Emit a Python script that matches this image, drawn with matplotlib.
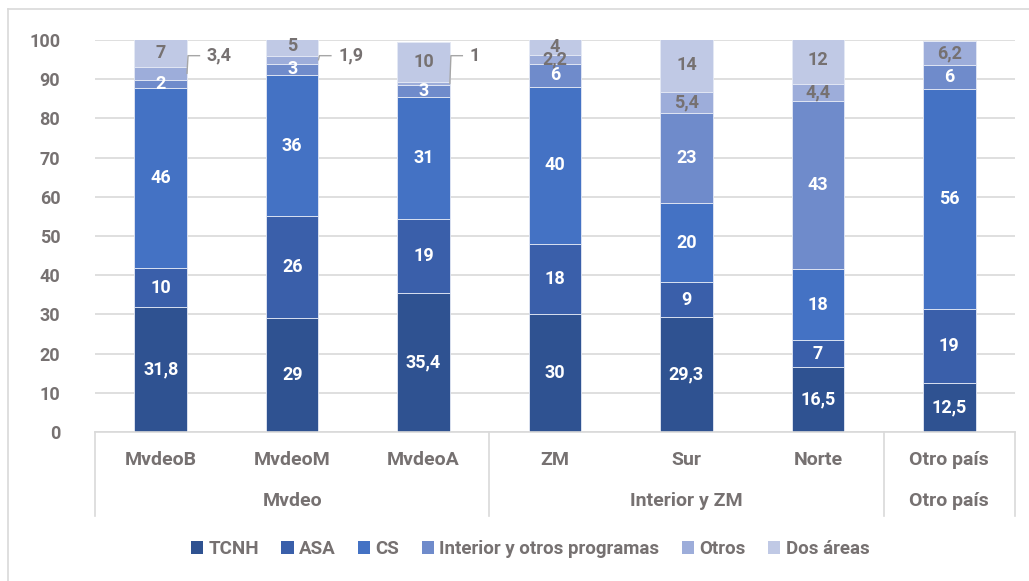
import matplotlib
matplotlib.use("Agg")
import matplotlib.pyplot as plt
from matplotlib.lines import Line2D
from matplotlib.patches import Patch
import numpy as np

categories = ["MvdeoB", "MvdeoM", "MvdeoA", "ZM", "Sur", "Norte", "Otro país"]
groups = [("Mvdeo", 0, 2), ("Interior y ZM", 3, 5), ("Otro país", 6, 6)]
series_names = ["TCNH", "ASA", "CS", "Interior y otros programas", "Otros", "Dos áreas"]
tcnh = [31.8, 29, 35.4, 30, 29.3, 16.5, 12.5]
asa = [10, 26, 19, 18, 9, 7, 19]
cs = [46, 36, 31, 40, 20, 18, 56]
interior = [2, 3, 3, 6, 23, 43, 6]
otros = [3.4, 1.9, 1, 2.2, 5.4, 4.4, 6.2]
dos_areas = [7, 5, 10, 4, 14, 12, 0]
label_text = {
    "TCNH": ["31,8", "29", "35,4", "30", "29,3", "16,5", "12,5"],
    "ASA": ["10", "26", "19", "18", "9", "7", "19"],
    "CS": ["46", "36", "31", "40", "20", "18", "56"],
    "Interior y otros programas": ["2", "3", "3", "6", "23", "43", "6"],
    "Otros": ["3,4", "1,9", "1", "2,2", "5,4", "4,4", "6,2"],
    "Dos áreas": ["7", "5", "10", "4", "14", "12", ""],
}
yticks = [0, 10, 20, 30, 40, 50, 60, 70, 80, 90, 100]

colors = ["#2F5291", "#3A5FAA", "#4472C4", "#6F8BCB", "#9DADDA", "#C0C9E5"]
label_colors = ["white", "white", "white", "white", "#767171", "#767171"]
grey = "#767171"
FONT = "Roboto"
plt.rcParams["font.family"] = [FONT, "DejaVu Sans"]

fig = plt.figure(figsize=(10.29, 5.81), dpi=100)
ax = fig.add_axes([95 / 1029, 1 - 432 / 581, 920 / 1029, 392 / 581])

x = np.arange(len(categories))
width = 0.40
data = [tcnh, asa, cs, interior, otros, dos_areas]
bottom = np.zeros(len(categories))
outside = {0, 1, 2}  # Otros labels with leader lines
for s, (name, vals) in enumerate(zip(series_names, data)):
    vals = np.array(vals, dtype=float)
    ax.bar(x, vals, width, bottom=bottom, color=colors[s], edgecolor="#E4E9F5",
           linewidth=0.6, zorder=2, label=name)
    for i, v in enumerate(vals):
        if v <= 0:
            continue
        mid = bottom[i] + v / 2
        txt = label_text[name][i]
        if name == "Otros" and i in outside:
            edge = x[i] + width / 2
            ly = 96.0
            ax.plot([edge, edge + 0.008, edge + 0.095], [mid, ly, ly], color="#A6A6A6",
                    lw=1.0, zorder=4, clip_on=False)
            ax.text(edge + 0.15, ly, txt, ha="left", va="center", color=grey,
                    fontsize=13, fontweight="bold", zorder=5)
        else:
            ax.text(x[i], mid, txt, ha="center", va="center", color=label_colors[s],
                    fontsize=13, fontweight="bold", zorder=5)
    bottom += vals

ax.set_xlim(-0.5, len(categories) - 0.5)
ax.set_ylim(0, 100)
ax.set_yticks(yticks)
ax.set_yticklabels([str(t) for t in yticks], color=grey, fontsize=13, fontweight="bold")
ax.tick_params(axis="y", length=0, pad=25)
ax.set_xticks([])
ax.grid(axis="y", color="#D9D9D9", lw=1.2, zorder=0)
ax.set_axisbelow(True)
for sp in ["top", "right", "left"]:
    ax.spines[sp].set_visible(False)
ax.spines["bottom"].set_color("#D9D9D9")
ax.spines["bottom"].set_linewidth(1.2)

# category labels (two-level axis)
trans = ax.get_xaxis_transform()
ax_h_px = 392
def yfrac(py):
    return (432 - py) / ax_h_px
for i, c in enumerate(categories):
    ax.text(x[i], yfrac(460), c, transform=trans, ha="center", va="center",
            color=grey, fontsize=14, fontweight="bold", clip_on=False)
bounds = [-0.5]
for gname, a, b in groups:
    ax.text((x[a] + x[b]) / 2, yfrac(501), gname, transform=trans, ha="center", va="center",
            color=grey, fontsize=14, fontweight="bold", clip_on=False)
    bounds.append(b + 0.5)
for bx in bounds:
    ax.add_line(Line2D([bx, bx], [0, yfrac(516)], transform=trans, color="#D9D9D9",
                       lw=1.2, clip_on=False))

# legend
handles = [Patch(facecolor=colors[s], edgecolor="none") for s in range(len(series_names))]
leg = fig.legend(handles, series_names, loc="center", bbox_to_anchor=(530 / 1029, 1 - 549 / 581),
                 ncol=6, frameon=False, handlelength=0.65, handleheight=0.65, handletextpad=0.28,
                 columnspacing=1.2, prop={"family": FONT, "size": 13.5, "weight": "bold"})
for t in leg.get_texts():
    t.set_color(grey)

# chart border
fig.add_artist(Line2D([8 / 1029, 8 / 1029], [0, 1 - 9 / 581], transform=fig.transFigure,
                      color="#D9D9D9", lw=1.2))
fig.add_artist(Line2D([8 / 1029, 1], [1 - 9 / 581, 1 - 9 / 581], transform=fig.transFigure,
                      color="#D9D9D9", lw=1.2))

fig.savefig("out.png", dpi=100, facecolor="white")
